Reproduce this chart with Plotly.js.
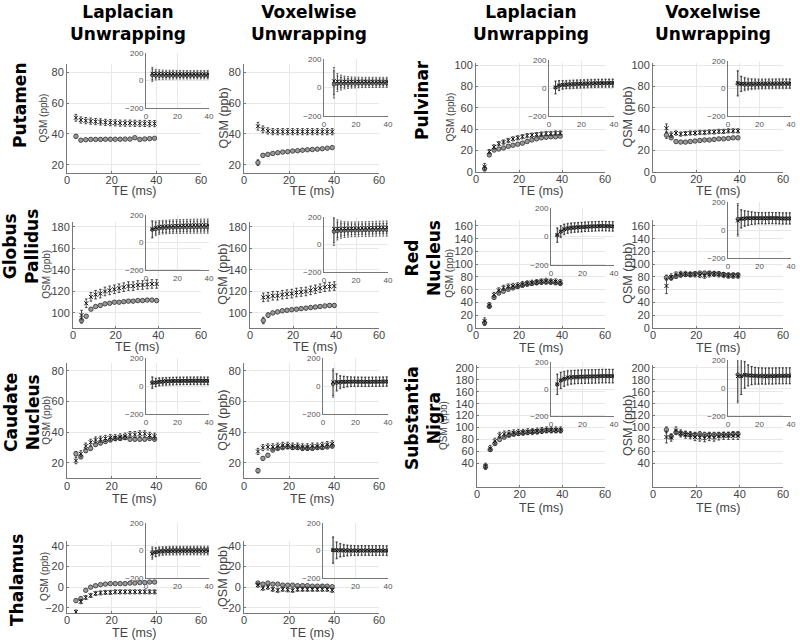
<!DOCTYPE html>
<html>
<head>
<meta charset="utf-8">
<script src="https://cdn.plot.ly/plotly-3.0.1.min.js"></script>
<style>html,body{margin:0;padding:0;background:#fff}#chart{width:800px;height:642px}</style>
</head>
<body>
<div id="chart"></div>
<script>
// ---------- DATA ----------
const TE_LAP = [4.0, 6.2, 8.4, 10.6, 12.8, 15.0, 17.2, 19.4, 21.6, 23.8, 26.0, 28.2, 30.4, 32.6, 34.8, 37.0, 39.2];
const TE_VOX = [6.2, 8.4, 10.6, 12.8, 15.0, 17.2, 19.4, 21.6, 23.8, 26.0, 28.2, 30.4, 32.6, 34.8, 37.0, 39.2];

const columnTitles = ["Laplacian<br>Unwrapping", "Voxelwise<br>Unwrapping", "Laplacian<br>Unwrapping", "Voxelwise<br>Unwrapping"];
const regionNames = ["Putamen", "Globus<br>Pallidus", "Caudate<br>Nucleus", "Thalamus", "Pulvinar", "Red<br>Nucleus", "Substantia<br>Nigra"];
const xTitle = "TE (ms)";
const yTitle = "QSM (ppb)";
const mainXTicks = [0, 20, 40, 60];
const insetXTicks = [0, 20, 40];
const insetYTicks = [-200, 0, 200];

// Putamen
const putLapC  = [38.5, 36.0, 36.3, 36.5, 36.5, 36.5, 36.6, 36.6, 36.6, 36.6, 36.7, 36.7, 37.6, 36.5, 36.8, 37.0, 37.2];
const putLapX  = [50.5, 49.0, 48.6, 48.3, 48.0, 47.8, 47.5, 47.3, 47.2, 47.0, 47.0, 47.0, 46.9, 46.8, 46.8, 46.7, 46.7];
const putLapEC = [1.2, 0.8, 0.8, 0.8, 0.8, 0.8, 0.8, 0.8, 0.8, 0.8, 0.8, 0.8, 0.8, 0.8, 0.8, 0.8, 0.8];
const putLapEX = [2.2, 2.0, 2.0, 2.0, 2.0, 2.0, 2.0, 2.0, 2.0, 2.0, 2.0, 2.0, 2.0, 2.0, 2.0, 2.0, 2.0];
const putLapSD = [45, 32, 30, 28, 27, 27, 27, 26, 26, 26, 26, 26, 26, 26, 26, 26, 26];
const putVoxC  = [21.5, 26.2, 26.8, 27.4, 27.9, 28.3, 28.6, 29.0, 29.2, 29.5, 29.8, 30.0, 30.2, 30.5, 30.8, 31.2];
const putVoxX  = [45.0, 43.0, 42.0, 41.5, 41.5, 41.5, 41.5, 41.5, 41.5, 41.5, 41.5, 41.5, 41.5, 41.5, 41.5, 41.5];
const putVoxEC = [1.8, 1.0, 0.8, 0.8, 0.8, 0.8, 0.8, 0.8, 0.8, 0.8, 0.8, 0.8, 0.8, 0.8, 0.8, 0.8];
const putVoxEX = [2.5, 2.2, 2.0, 2.0, 2.0, 2.0, 2.0, 2.0, 2.0, 2.0, 2.0, 2.0, 2.0, 2.0, 2.0, 2.0];
const putVoxSD = [95, 55, 45, 38, 35, 33, 32, 31, 30, 30, 30, 30, 30, 30, 30, 30];

// Globus Pallidus
const gpLapC  = [93, 97, 103.5, 106, 107, 108.5, 109, 110, 110, 110.5, 111, 111, 111.5, 111.5, 112, 112, 111.5];
const gpLapX  = [98, 109, 115, 117, 118, 120, 121, 122, 123, 124, 125, 125, 126, 126, 126.5, 127, 127];
const gpLapEC = [2.5, 1.5, 1.2, 1.2, 1.2, 1.2, 1.2, 1.2, 1.2, 1.2, 1.2, 1.2, 1.2, 1.2, 1.2, 1.2, 1.2];
const gpLapEX = [4.5, 4.0, 4.0, 4.0, 4.0, 4.0, 4.0, 4.0, 4.0, 4.0, 4.0, 4.0, 4.0, 4.0, 4.0, 4.0, 4.0];
const gpLapSD = [60, 48, 45, 44, 44, 44, 44, 44, 44, 44, 44, 44, 44, 44, 44, 44, 44];
const gpVoxC  = [93, 98, 100, 101, 102, 102.5, 103, 103.5, 104, 104.5, 105, 105.5, 106, 106.5, 107, 107];
const gpVoxX  = [114.5, 115, 116, 116, 117, 117.5, 118, 119, 119.5, 120, 121, 122, 123, 124, 124.5, 125];
const gpVoxEC = [3.0, 2.0, 1.5, 1.5, 1.5, 1.5, 1.5, 1.5, 1.5, 1.5, 1.5, 1.5, 1.5, 1.5, 1.5, 1.5];
const gpVoxEX = [4.0, 4.0, 4.0, 4.0, 4.0, 4.0, 4.0, 4.0, 4.0, 4.0, 4.0, 4.0, 4.0, 4.0, 4.0, 4.0];
const gpVoxSD = [100, 65, 55, 50, 48, 47, 46, 46, 46, 46, 46, 46, 46, 46, 46, 46];

// Caudate Nucleus
const cauLapC  = [26, 24, 28, 29.5, 32, 33, 34, 35, 36, 36, 36.5, 35.5, 35.5, 35.5, 35.5, 36, 35.5];
const cauLapX  = [21.5, 26, 31, 33.5, 35, 35.5, 36, 36.5, 36.5, 37, 37.5, 38.5, 38.5, 39, 39, 38, 37.5];
const cauLapEC = [1.5, 1.2, 1.2, 1.2, 1.2, 1.2, 1.2, 1.2, 1.2, 1.2, 1.2, 1.2, 1.2, 1.2, 1.2, 1.2, 1.2];
const cauLapEX = [2.0, 2.0, 2.0, 2.0, 2.0, 2.0, 2.0, 2.0, 2.0, 2.0, 2.0, 2.0, 2.0, 2.0, 2.0, 2.0, 2.0];
const cauLapSD = [40, 30, 28, 27, 27, 27, 27, 27, 27, 27, 27, 27, 27, 27, 27, 27, 27];
const cauVoxC  = [15, 23, 25, 28.5, 29.5, 30, 30.5, 30, 30, 29.5, 29.5, 29.5, 30, 30, 30.5, 31];
const cauVoxX  = [27.5, 30, 30.5, 30.5, 31, 31.5, 31.5, 31, 31, 30.5, 30.5, 31, 31, 31.5, 32, 32.5];
const cauVoxEC = [1.5, 1.2, 1.2, 1.2, 1.2, 1.2, 1.2, 1.2, 1.2, 1.2, 1.2, 1.2, 1.2, 1.2, 1.2, 1.2];
const cauVoxEX = [2.0, 2.0, 2.0, 2.0, 2.0, 2.0, 2.0, 2.0, 2.0, 2.0, 2.0, 2.0, 2.0, 2.0, 2.0, 2.0];
const cauVoxSD = [95, 60, 45, 40, 36, 34, 33, 33, 33, 33, 33, 33, 33, 33, 33, 33];

// Thalamus
const thaLapC  = [-13, -11, -3, 0, 1.5, 2.5, 3, 3.5, 3.5, 3.5, 3.5, 4, 4, 4.5, 4.5, 5, 5];
const thaLapX  = [-24, -14, -10, -8, -6, -5.5, -5, -5, -4.5, -4.5, -4.5, -4.5, -4.5, -4.5, -4.5, -4.5, -4.5];
const thaLapEC = [1.5, 1.2, 1.2, 1.2, 1.2, 1.2, 1.2, 1.2, 1.2, 1.2, 1.2, 1.2, 1.2, 1.2, 1.2, 1.2, 1.2];
const thaLapEX = [2.0, 2.0, 2.0, 2.0, 2.0, 2.0, 2.0, 2.0, 2.0, 2.0, 2.0, 2.0, 2.0, 2.0, 2.0, 2.0, 2.0];
const thaLapSD = [40, 32, 30, 28, 28, 28, 28, 28, 28, 28, 28, 28, 28, 28, 28, 28, 28];
const thaVoxC  = [4, 3, 4, 3, 3, 2, 2, 2, 1.5, 1.5, 1.5, 1, 1, 1, 1, 0.5];
const thaVoxX  = [2, -1, 0, -2, -3, -2, -2.5, -3, -2, -2, -2, -2, -2, -2, -2, -3];
const thaVoxEC = [1.5, 1.2, 1.2, 1.2, 1.2, 1.2, 1.2, 1.2, 1.2, 1.2, 1.2, 1.2, 1.2, 1.2, 1.2, 1.2];
const thaVoxEX = [2.0, 2.0, 2.0, 2.0, 2.0, 2.0, 2.0, 2.0, 2.0, 2.0, 2.0, 2.0, 2.0, 2.0, 2.0, 2.0];
const thaVoxSD = [95, 60, 48, 42, 38, 36, 35, 35, 35, 35, 35, 35, 35, 35, 35, 35];

// Pulvinar
const pulLapC  = [3, 16, 20.5, 21.5, 22.5, 24, 25, 26, 27, 28.5, 30, 31, 32, 32.5, 33, 33, 33.5];
const pulLapX  = [5, 19, 23.5, 26.5, 28, 29.5, 31, 32, 33, 34, 34.5, 35, 35.5, 36, 36, 36.5, 36.5];
const pulLapEC = [2.0, 1.5, 1.2, 1.2, 1.2, 1.2, 1.2, 1.2, 1.2, 1.2, 1.2, 1.2, 1.2, 1.2, 1.2, 1.2, 1.2];
const pulLapEX = [3.0, 2.0, 2.0, 2.0, 2.0, 2.0, 2.0, 2.0, 2.0, 2.0, 2.0, 2.0, 2.0, 2.0, 2.0, 2.0, 2.0];
const pulLapSD = [45, 35, 30, 28, 28, 28, 28, 28, 28, 28, 28, 28, 28, 28, 28, 28, 28];
const pulVoxC  = [34.5, 32, 28.5, 28, 28, 28.5, 29, 29.5, 30, 30, 30.5, 31, 31, 31.5, 32, 32];
const pulVoxX  = [41, 35, 36.5, 35.5, 36, 36.5, 36.5, 37, 37, 37.5, 37.5, 38, 38, 38.5, 38.5, 38.5];
const pulVoxEC = [3.0, 1.5, 1.2, 1.2, 1.2, 1.2, 1.2, 1.2, 1.2, 1.2, 1.2, 1.2, 1.2, 1.2, 1.2, 1.2];
const pulVoxEX = [4.0, 2.5, 2.0, 2.0, 2.0, 2.0, 2.0, 2.0, 2.0, 2.0, 2.0, 2.0, 2.0, 2.0, 2.0, 2.0];
const pulVoxSD = [90, 55, 45, 40, 36, 34, 33, 33, 33, 33, 33, 33, 33, 33, 33, 33];

// Red Nucleus
const rnLapC  = [8, 34, 48, 55, 58, 61, 63, 65, 67, 69, 70, 71, 72, 72, 72, 71, 70];
const rnLapX  = [11, 36, 52, 59, 63, 65, 66, 67, 69, 70, 71, 72, 73, 74, 73, 73, 72];
const rnLapEC = [4, 3, 3, 3, 3, 3, 3, 3, 3, 3, 3, 3, 3, 3, 3, 3, 3];
const rnLapEX = [5, 4, 4, 4, 4, 4, 4, 4, 4, 4, 4, 4, 4, 4, 4, 4, 4];
const rnLapSD = [50, 40, 36, 34, 33, 33, 33, 33, 33, 33, 33, 33, 33, 33, 33, 33, 33];
const rnVoxC  = [79, 79, 81, 83, 84, 84, 85, 86, 86, 86, 85, 85, 84, 83, 83, 83];
const rnVoxX  = [66, 80, 84, 85, 85, 84, 84, 83, 82, 84, 85, 84, 83, 82, 82, 82];
const rnVoxEC = [4, 3, 3, 3, 3, 3, 3, 3, 3, 3, 3, 3, 3, 3, 3, 3];
const rnVoxEX = [12, 5, 4, 4, 4, 4, 4, 4, 4, 4, 4, 4, 4, 4, 4, 4];
const rnVoxSD = [110, 65, 55, 50, 45, 42, 40, 40, 40, 40, 40, 40, 40, 40, 40, 40];

// Substantia Nigra
const snLapC  = [34, 63, 73, 80, 84, 87, 89, 90, 91, 92, 93, 93, 94, 95, 95, 95, 95];
const snLapX  = [35, 65, 77, 87, 89, 90, 91, 92, 92, 93, 93, 94, 95, 96, 96, 96, 96];
const snLapEC = [4, 3, 3, 3, 3, 3, 3, 3, 3, 3, 3, 3, 3, 3, 3, 3, 3];
const snLapEX = [5, 5, 5, 5, 5, 5, 5, 5, 5, 5, 5, 5, 5, 5, 5, 5, 5];
const snLapSD = [75, 60, 55, 52, 50, 50, 50, 50, 50, 50, 50, 50, 50, 50, 50, 50, 50];
const snVoxC  = [96, 85, 92, 90, 89, 88, 88, 89, 88, 88, 88, 88, 88, 88, 89, 89];
const snVoxX  = [84, 83, 95, 90, 88, 87, 84, 83, 82, 84, 83, 85, 86, 86, 86, 86];
const snVoxEC = [5, 4, 4, 4, 4, 4, 4, 4, 4, 4, 4, 4, 4, 4, 4, 4];
const snVoxEX = [10, 6, 6, 6, 6, 6, 6, 6, 6, 6, 6, 6, 6, 6, 6, 6];
const snVoxSD = [190, 130, 95, 75, 65, 60, 58, 57, 57, 57, 57, 57, 57, 57, 57, 57];

// ---------- LAYOUT GEOMETRY (pixels) ----------
const W = 800, H = 642;
const panels = [
  {te:TE_LAP, c:putLapC, x:putLapX, ec:putLapEC, ex:putLapEX, sd:putLapSD, box:[67,201,64.3,172.7], yr:[15,85], yt:[20,40,60,80], ins:[146,209,53,108], lab:10, qx:43, ty:191},
  {te:TE_VOX, c:putVoxC, x:putVoxX, ec:putVoxEC, ex:putVoxEX, sd:putVoxSD, box:[244,379,64.3,172.7], yr:[15,85], yt:[20,40,60,80], ins:[324,388,59,116], lab:12.5, qx:223, ty:191},
  {te:TE_LAP, c:gpLapC, x:gpLapX, ec:gpLapEC, ex:gpLapEX, sd:gpLapSD, box:[73,201,221.6,328], yr:[86,185], yt:[100,120,140,160,180], ins:[146,209,215,270], lab:10, qx:47, ty:347},
  {te:TE_VOX, c:gpVoxC, x:gpVoxX, ec:gpVoxEC, ex:gpVoxEX, sd:gpVoxSD, box:[250,379,221.6,328], yr:[86,185], yt:[100,120,140,160,180], ins:[324,388,217,272], lab:12.5, qx:223, ty:347},
  {te:TE_LAP, c:cauLapC, x:cauLapX, ec:cauLapEC, ex:cauLapEX, sd:cauLapSD, box:[67,201,363.3,478.3], yr:[10,85], yt:[20,40,60,80], ins:[146,209,358,414], lab:10, qx:47, ty:499},
  {te:TE_VOX, c:cauVoxC, x:cauVoxX, ec:cauVoxEC, ex:cauVoxEX, sd:cauVoxSD, box:[244,379,363.3,478.3], yr:[10,85], yt:[20,40,60,80], ins:[323,388,358,414], lab:12.5, qx:223, ty:499},
  {te:TE_LAP, c:thaLapC, x:thaLapX, ec:thaLapEC, ex:thaLapEX, sd:thaLapSD, box:[67,201,540.8,613], yr:[-25,45], yt:[-20,0,20,40], ins:[146,209,523,578], lab:10, qx:45, ty:633},
  {te:TE_VOX, c:thaVoxC, x:thaVoxX, ec:thaVoxEC, ex:thaVoxEX, sd:thaVoxSD, box:[244,379,540.8,613], yr:[-25,45], yt:[-20,0,20,40], ins:[323,388,523,578], lab:12.5, qx:223, ty:633},
  {te:TE_LAP, c:pulLapC, x:pulLapX, ec:pulLapEC, ex:pulLapEX, sd:pulLapSD, box:[476,605,63,172], yr:[0,102], yt:[0,20,40,60,80,100], ins:[549,614,60,116], lab:10, qx:450, ty:191},
  {te:TE_VOX, c:pulVoxC, x:pulVoxX, ec:pulVoxEC, ex:pulVoxEX, sd:pulVoxSD, box:[653,783,63,172], yr:[0,102], yt:[0,20,40,60,80,100], ins:[728,791,61,116], lab:12.5, qx:628, ty:191},
  {te:TE_LAP, c:rnLapC, x:rnLapX, ec:rnLapEC, ex:rnLapEX, sd:rnLapSD, box:[476,605,219.6,328], yr:[0,170], yt:[0,20,40,60,80,100,120,140,160], ins:[551,614,208,265], lab:10, qx:450, ty:348},
  {te:TE_VOX, c:rnVoxC, x:rnVoxX, ec:rnVoxEC, ex:rnVoxEX, sd:rnVoxSD, box:[653,783,219.6,328], yr:[0,170], yt:[0,20,40,60,80,100,120,140,160], ins:[728,791,202,258], lab:12.5, qx:628, ty:348},
  {te:TE_LAP, c:snLapC, x:snLapX, ec:snLapEC, ex:snLapEX, sd:snLapSD, box:[477,605,365,487], yr:[0,205], yt:[40,60,80,100,120,140,160,180,200], ins:[551,614,362,416], lab:10, qx:443, ty:508},
  {te:TE_VOX, c:snVoxC, x:snVoxX, ec:snVoxEC, ex:snVoxEX, sd:snVoxSD, box:[653,783,365,487], yr:[0,205], yt:[40,60,80,100,120,140,160,180,200], ins:[728,791,360,416], lab:12.5, qx:628, ty:508}
];
const colTitlePos = [[128,23],[309,23],[531,23],[713,23]];
const rowLabelPos = [[20,105],[21,247],[22,413],[17,580],[422,100],[423,258],[423,418]];

// ---------- BUILD ----------
const fx = p => p / W, fy = p => 1 - p / H;
const FAM = "Liberation Sans, Arial, sans-serif";
const TICKFONT = {family:FAM, size:11, color:"#444"};
const INSFONT = {family:FAM, size:8, color:"#555"};
const GRID = "#e8e8e8", LINE = "#777";
const traces = [], layout = {
  width: W, height: H, margin:{l:0,r:0,t:0,b:0}, showlegend:false,
  paper_bgcolor:"#fff", plot_bgcolor:"rgba(0,0,0,0)", annotations:[], shapes:[]
};

function addSeries(xa, ya, te, y, err, sym, small) {
  const isX = sym === "x";
  traces.push({
    type:"scatter", mode:"markers", x:te, y:y, xaxis:xa, yaxis:ya, hoverinfo:"skip",
    marker: isX
      ? {symbol:"x-thin", size: small?3.5:4, line:{color:"#111", width:1}, color:"#111"}
      : {symbol:"circle", size: small?3.5:4.5, color:"#9a9a9a", line:{color:"#333", width:0.8}},
    error_y:{type:"data", array:err, visible:true, color:"#222", thickness: small?0.6:0.8, width: small?1:1.3},
    cliponaxis: true
  });
}

const N = panels.length;
panels.forEach((p, i) => {
  const k = i + 1, ki = i + 1 + N;
  const xk = k === 1 ? "xaxis" : "xaxis" + k, yk = k === 1 ? "yaxis" : "yaxis" + k;
  const xa = k === 1 ? "x" : "x" + k, ya = k === 1 ? "y" : "y" + k;
  layout[xk] = {
    domain:[fx(p.box[0]), fx(p.box[1])], anchor: ya, range:[0,60], tickvals:mainXTicks,
    showgrid:true, gridcolor:GRID, showline:true, linecolor:LINE, linewidth:1, zeroline:false,
    ticks:"inside", ticklen:2, tickcolor:LINE, tickfont:TICKFONT, fixedrange:true, ticklabelstandoff:-3
  };
  layout[yk] = {
    domain:[fy(p.box[3]), fy(p.box[2])], anchor: xa, range:p.yr, tickvals:p.yt,
    showgrid:true, gridcolor:GRID, showline:true, linecolor:LINE, linewidth:1, zeroline:false,
    ticks:"inside", ticklen:2, tickcolor:LINE, tickfont:TICKFONT, fixedrange:true
  };
  addSeries(xa, ya, p.te, p.c, p.ec, "o", false);
  addSeries(xa, ya, p.te, p.x, p.ex, "x", false);

  layout.annotations.push({text:xTitle, xref:"paper", yref:"paper", showarrow:false,
    x:fx((p.box[0] + p.box[1]) / 2), y:fy(p.ty), xanchor:"center", yanchor:"middle",
    font:{family:FAM, size:12.5, color:"#444"}});
  layout.annotations.push({text:yTitle, xref:"paper", yref:"paper", showarrow:false, textangle:-90,
    x:fx(p.qx), y:fy((p.box[2] + p.box[3]) / 2), xanchor:"center", yanchor:"middle",
    font:{family:FAM, size:p.lab, color:"#444"}});

  const xik = "xaxis" + ki, yik = "yaxis" + ki, xia = "x" + ki, yia = "y" + ki;
  layout[xik] = {
    domain:[fx(p.ins[0]), fx(p.ins[1])], anchor: yia, range:[0,40], tickvals:insetXTicks,
    showgrid:true, gridcolor:GRID, showline:true, linecolor:LINE, linewidth:1, zeroline:false,
    ticks:"", tickfont:INSFONT, fixedrange:true
  };
  layout[yik] = {
    domain:[fy(p.ins[3]), fy(p.ins[2])], anchor: xia, range:[-200,200], tickvals:insetYTicks,
    showgrid:true, gridcolor:GRID, showline:true, linecolor:LINE, linewidth:1, zeroline:false,
    ticks:"", tickfont:INSFONT, fixedrange:true
  };
  layout.shapes.push({type:"rect", xref:xia + " domain", yref:yia + " domain", x0:0, x1:1, y0:0, y1:1,
    fillcolor:"#fff", line:{width:0}, layer:"below"});
  addSeries(xia, yia, p.te, p.c, p.sd, "o", true);
  addSeries(xia, yia, p.te, p.x, p.sd, "x", true);
});

columnTitles.forEach((t, i) => {
  layout.annotations.push({text:"<b>" + t + "</b>", xref:"paper", yref:"paper",
    x:fx(colTitlePos[i][0]), y:fy(colTitlePos[i][1]), xanchor:"center", yanchor:"middle", showarrow:false,
    font:{family:"DejaVu Sans, sans-serif", size:17, color:"#000"}});
});
regionNames.forEach((t, i) => {
  layout.annotations.push({text:"<b>" + t + "</b>", xref:"paper", yref:"paper", textangle:-90,
    x:fx(rowLabelPos[i][0]), y:fy(rowLabelPos[i][1]), xanchor:"center", yanchor:"middle", showarrow:false,
    font:{family:"DejaVu Sans, sans-serif", size:17, color:"#000"}});
});

Plotly.newPlot("chart", traces, layout, {staticPlot:true, displayModeBar:false});
</script>
</body>
</html>
